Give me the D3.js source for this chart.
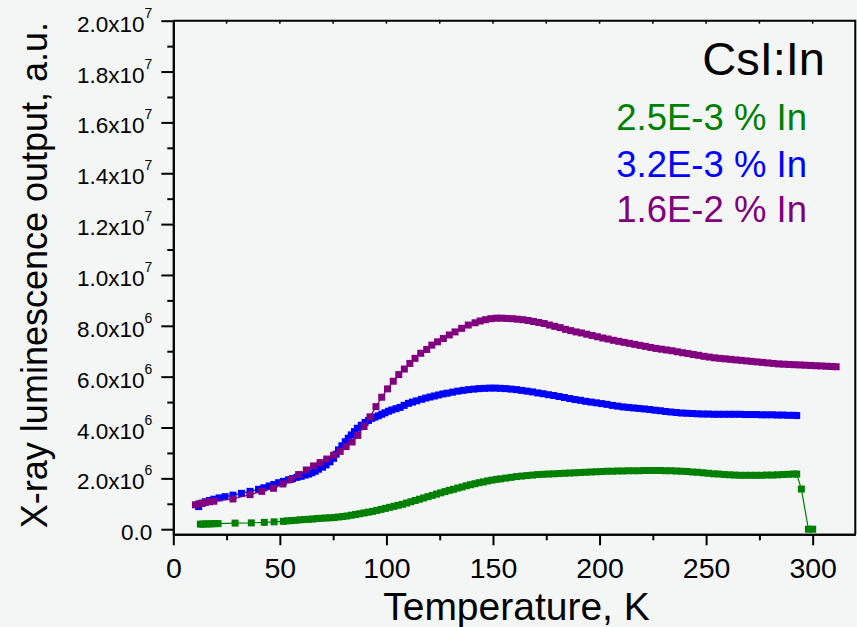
<!DOCTYPE html>
<html lang="en">
<head>
  <meta charset="UTF-8">
  <title>CsI:In X-ray luminescence</title>
  <script src="https://d3js.org/d3.v7.min.js"></script>
  <style>
    html, body { margin: 0; padding: 0; background: #f4f6f6; }
    svg { display: block; font-family: "Liberation Sans", Arial, sans-serif; }
    .axis path, .axis line { stroke: #000; stroke-width: 2px; }
    .axis text { fill: #000; }
  </style>
</head>
<body>
<svg width="857" height="627"></svg>
<script>
// temperatures (K) and output (units of 1e6 a.u.)
const greenT = [12.7,14.0,15.3,16.7,18.0,19.5,21.0,29.0,36.6,42.7,47.3,51.6,53.5,55.5,57.5,59.5,61.5,63.5,65.5,67.5,69.5,71.5,73.5,75.5,77.5,79.5,81.5,83.5,85.5,87.5,89.5,91.5,93.5,95.5,97.5,99.5,101.5,103.5,105.5,107.5,109.5,111.5,113.5,115.5,117.5,119.5,121.5,123.5,125.5,127.5,129.5,131.5,133.5,135.5,137.5,139.5,141.5,143.5,145.5,147.5,149.5,151.5,153.5,156.0,158.5,161.0,163.5,166.0,168.5,171.0,173.5,176.0,178.5,181.0,183.5,186.0,188.5,191.0,193.5,196.0,198.5,201.0,203.5,206.0,208.5,211.0,213.5,216.0,218.5,221.0,223.5,226.0,228.5,231.0,233.5,236.0,238.5,241.0,243.5,246.0,248.5,251.0,253.5,256.0,258.5,261.0,263.5,266.0,268.5,271.0,273.5,276.0,278.5,281.0,283.5,286.0,288.5,291.0,292.5,294.7,298.0,300.0];
const greenV = [0.20,0.20,0.21,0.21,0.21,0.22,0.22,0.24,0.25,0.27,0.29,0.31,0.33,0.34,0.35,0.37,0.38,0.39,0.40,0.42,0.43,0.44,0.45,0.46,0.48,0.50,0.52,0.55,0.58,0.61,0.64,0.67,0.70,0.74,0.78,0.82,0.86,0.90,0.94,0.98,1.03,1.08,1.13,1.18,1.23,1.28,1.33,1.38,1.43,1.48,1.53,1.57,1.62,1.66,1.71,1.75,1.79,1.83,1.86,1.90,1.93,1.96,1.98,2.01,2.04,2.07,2.09,2.11,2.13,2.15,2.16,2.17,2.18,2.19,2.20,2.21,2.22,2.23,2.24,2.25,2.26,2.27,2.28,2.28,2.29,2.29,2.30,2.30,2.30,2.31,2.31,2.31,2.31,2.30,2.30,2.29,2.28,2.27,2.25,2.24,2.22,2.20,2.18,2.17,2.15,2.14,2.13,2.12,2.12,2.12,2.12,2.12,2.13,2.13,2.14,2.15,2.16,2.17,2.17,1.58,0.00,0.00];

const blueT = [11.9,13.4,15.0,17.0,19.0,21.5,24.3,28.0,32.0,36.0,40.0,42.5,45.0,47.2,49.4,51.7,54.0,56.0,58.0,60.0,61.9,63.5,65.0,66.6,68.1,70.0,71.7,73.5,75.2,76.4,77.5,79.1,80.7,82.1,83.5,85.0,86.4,88.2,90.0,91.6,93.1,94.6,96.2,97.8,99.3,101.0,102.5,104.5,106.4,108.3,110.3,112.2,114.2,116.5,118.5,120.5,122.5,124.5,126.5,128.5,131.0,133.5,136.0,138.5,141.0,143.5,146.0,148.5,151.0,153.5,156.0,158.5,161.0,163.5,166.0,168.5,171.0,173.5,176.0,178.5,181.0,183.5,186.0,188.5,191.0,193.5,196.0,198.5,201.0,203.5,206.0,208.5,211.0,213.5,216.0,218.5,221.0,223.5,226.0,228.5,231.0,233.5,236.0,238.5,241.0,243.5,246.0,248.5,251.0,253.5,256.0,258.5,261.0,263.5,266.0,268.5,271.0,273.5,276.0,278.5,281.0,283.5,286.0,288.5,291.0,292.5];
const blueV = [0.89,1.02,1.08,1.13,1.18,1.23,1.28,1.34,1.41,1.49,1.57,1.63,1.70,1.76,1.83,1.88,1.94,1.99,2.04,2.08,2.13,2.17,2.22,2.28,2.36,2.44,2.53,2.65,2.79,2.95,3.12,3.28,3.44,3.58,3.71,3.84,3.97,4.09,4.20,4.28,4.36,4.41,4.46,4.52,4.58,4.64,4.69,4.74,4.79,4.87,4.95,5.00,5.05,5.11,5.16,5.20,5.24,5.28,5.32,5.35,5.39,5.43,5.46,5.49,5.51,5.53,5.54,5.55,5.55,5.54,5.53,5.51,5.49,5.46,5.43,5.40,5.36,5.33,5.29,5.26,5.22,5.18,5.14,5.10,5.07,5.03,5.00,4.97,4.94,4.91,4.87,4.84,4.81,4.79,4.77,4.75,4.73,4.71,4.68,4.66,4.63,4.61,4.59,4.57,4.56,4.55,4.54,4.53,4.53,4.52,4.52,4.52,4.52,4.52,4.52,4.51,4.51,4.51,4.50,4.50,4.50,4.49,4.49,4.48,4.48,4.47];

const purpleT = [10.4,12.0,13.5,15.0,17.0,19.0,28.0,36.0,41.5,47.0,51.4,55.2,58.8,62.4,65.8,68.9,72.0,75.2,78.3,81.1,83.9,86.6,89.5,92.3,95.1,97.8,100.5,103.2,105.8,108.4,111.0,113.4,116.1,118.9,121.3,124.0,126.7,129.5,132.2,135.3,138.4,141.6,144.0,146.5,149.0,151.5,154.0,156.5,159.0,161.5,164.0,166.5,169.0,171.5,174.0,176.5,179.0,181.5,184.0,186.5,189.0,191.5,194.0,196.5,199.0,201.5,204.0,206.5,209.0,211.5,214.0,216.5,219.0,221.5,224.0,226.5,229.0,231.5,234.0,236.5,239.0,241.5,244.0,246.5,249.0,251.5,254.0,256.5,259.0,261.5,264.0,266.5,269.0,271.5,274.0,276.5,279.0,281.5,284.0,286.5,289.0,291.5,294.0,296.5,299.0,301.5,304.0,306.5,309.0,311.0];
const purpleV = [0.96,1.00,1.02,1.05,1.08,1.10,1.19,1.36,1.49,1.61,1.78,1.96,2.15,2.33,2.49,2.62,2.76,2.91,3.06,3.25,3.43,3.69,4.04,4.42,4.82,5.19,5.52,5.82,6.08,6.30,6.52,6.72,6.92,7.07,7.24,7.37,7.50,7.64,7.76,7.90,8.03,8.12,8.19,8.24,8.28,8.30,8.30,8.29,8.28,8.26,8.24,8.21,8.17,8.13,8.09,8.03,7.98,7.93,7.86,7.81,7.76,7.72,7.67,7.62,7.57,7.52,7.48,7.43,7.39,7.35,7.31,7.27,7.23,7.19,7.15,7.11,7.08,7.05,7.02,6.98,6.94,6.91,6.87,6.84,6.80,6.77,6.74,6.72,6.70,6.68,6.66,6.64,6.62,6.60,6.58,6.56,6.54,6.52,6.50,6.49,6.48,6.47,6.46,6.45,6.44,6.43,6.42,6.41,6.40,6.39];

const seriesNames = ["2.5E-3 % In", "3.2E-3 % In", "1.6E-2 % In"];
const seriesColors = ["#008000", "#0000ff", "#800080"];
const xTicks = [0, 50, 100, 150, 200, 250, 300];
const yTicks = [0, 2, 4, 6, 8, 10, 12, 14, 16, 18, 20];

const svg = d3.select("svg");
const pLeft = 173.3, pRight = 855.3, pTop = 20.7, pBottom = 534.3;

const x = d3.scaleLinear().domain([0, 320]).range([pLeft, pRight]);
const y = d3.scaleLinear().domain([-0.2, 20]).range([pBottom, pTop]);

svg.append("rect").attr("width", 857).attr("height", 627).attr("fill", "#f4f6f6");

// frame (top / right)
svg.append("path")
  .attr("d", `M${pLeft},${pTop}H${pRight}V${pBottom}`)
  .attr("fill", "none").attr("stroke", "#000").attr("stroke-width", 2);

// tiny inward ticks on the top edge
svg.append("g").selectAll("line")
  .data(d3.range(25, 320, 25))
  .join("line")
  .attr("x1", d => x(d)).attr("x2", d => x(d))
  .attr("y1", pTop).attr("y2", pTop + 3)
  .attr("stroke", "#000").attr("stroke-width", 1.5);

// minor ticks first, then major ones
const gx = svg.append("g").attr("class", "axis").attr("transform", `translate(0,${pBottom})`);
gx.append("g").call(d3.axisBottom(x).tickValues(d3.range(25, 320, 50)).tickSize(6).tickSizeOuter(0).tickFormat(""));
gx.append("g").call(d3.axisBottom(x).tickValues(xTicks).tickSize(11).tickSizeOuter(0).tickFormat(d3.format("d")));
gx.selectAll("text").attr("y", 44).attr("dy", 0).style("font-size", "28.5px")
  .style("font-family", "'Liberation Sans', Arial, sans-serif");

const gy = svg.append("g").attr("class", "axis").attr("transform", `translate(${pLeft},0)`);
gy.append("g").call(d3.axisLeft(y).tickValues(d3.range(1, 20, 2)).tickSize(6).tickSizeOuter(0).tickFormat(""));
const gyMajor = gy.append("g").call(d3.axisLeft(y).tickValues(yTicks).tickSize(12).tickSizeOuter(0).tickFormat(""));
gyMajor.selectAll(".tick").each(function(d) {
  const t = d3.select(this).append("text")
    .attr("x", -21).attr("y", 10.5)
    .attr("text-anchor", "end")
    .style("font-size", "22.5px")
    .style("font-family", "'Liberation Sans', Arial, sans-serif");
  if (d === 0) { t.text("0.0"); return; }
  const v = d * 1e6;
  const e = Math.floor(Math.log10(v) + 1e-9);
  const m = v / Math.pow(10, e);
  t.append("tspan").text(m.toFixed(1) + "x10");
  t.append("tspan").attr("dy", -14).style("font-size", "14px").text(e);
});

// axis titles
svg.append("text")
  .attr("transform", "translate(46.7,275) rotate(-90)")
  .attr("text-anchor", "middle")
  .style("font-size", "36px")
  .text("X-ray luminescence output, a.u.");

svg.append("text")
  .attr("x", 516.5).attr("y", 620)
  .attr("text-anchor", "middle")
  .style("font-size", "39px")
  .text("Temperature, K");

// series
const series = [
  { T: greenT, V: greenV },
  { T: blueT, V: blueV },
  { T: purpleT, V: purpleV }
];
const line = d3.line().x(d => x(d[0])).y(d => y(d[1]));
const ms = 7;

series.forEach((s, i) => {
  const pts = s.T.map((t, k) => [t, s.V[k]]);
  const g = svg.append("g");
  g.append("path").datum(pts)
    .attr("d", line)
    .attr("fill", "none")
    .attr("stroke", seriesColors[i])
    .attr("stroke-width", 1.2);
  g.selectAll("rect").data(pts).join("rect")
    .attr("x", d => x(d[0]) - ms / 2)
    .attr("y", d => y(d[1]) - ms / 2)
    .attr("width", ms).attr("height", ms)
    .attr("fill", seriesColors[i]);
});

// legend
svg.append("text")
  .attr("x", 825).attr("y", 75)
  .attr("text-anchor", "end")
  .style("font-size", "47px")
  .text("CsI:In");

const legY = [130, 176.7, 221.7];
seriesNames.forEach((n, i) => {
  svg.append("text")
    .attr("x", 807).attr("y", legY[i])
    .attr("text-anchor", "end")
    .style("font-size", "36.5px")
    .attr("fill", seriesColors[i])
    .text(n);
});
</script>
</body>
</html>
